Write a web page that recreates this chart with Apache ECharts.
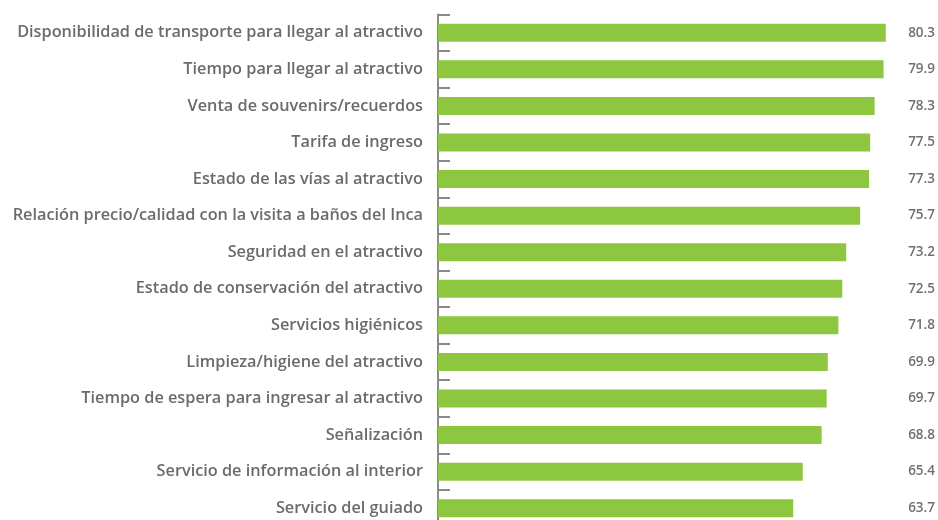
<!DOCTYPE html>
<html><head><meta charset="utf-8">
<script src="https://cdn.jsdelivr.net/npm/echarts@6/dist/echarts.min.js"></script>
<style>html,body{margin:0;padding:0;background:#fff}#c{width:938px;height:520px}</style>
</head><body><div id="c"></div>
<script>
var categories = [
  "Disponibilidad de transporte para llegar al atractivo",
  "Tiempo para llegar al atractivo",
  "Venta de souvenirs/recuerdos",
  "Tarifa de ingreso",
  "Estado de las vías al atractivo",
  "Relación precio/calidad con la visita a baños del Inca",
  "Seguridad en el atractivo",
  "Estado de conservación del atractivo",
  "Servicios higiénicos",
  "Limpieza/higiene del atractivo",
  "Tiempo de espera para ingresar al atractivo",
  "Señalización",
  "Servicio de información al interior",
  "Servicio del guiado"
];
var values = [80.3, 79.9, 78.3, 77.5, 77.3, 75.7, 73.2, 72.5, 71.8, 69.9, 69.7, 68.8, 65.4, 63.7];

var chart = echarts.init(document.getElementById('c'));
chart.setOption({
  animation: false,
  grid: { left: 438, right: 26, top: 14.5, height: 512, containLabel: false, outerBoundsMode: 'none' },
  xAxis: { type: 'value', min: 0, max: 85, show: false },
  yAxis: [{
    type: 'category', data: categories, inverse: true,
    axisLine: { show: true, lineStyle: { color: '#8a8a8a', width: 2 } },
    axisTick: { show: true, inside: true, length: 12, lineStyle: { color: '#8a8a8a', width: 2 } },
    axisLabel: { color: '#6b6b6b', fontSize: 16.3, fontFamily: 'Open Sans', fontWeight: 600, margin: 15 }
  }, {
    type: 'category', data: values.map(function(v){return v.toFixed(1);}), inverse: true, position: 'right',
    axisLine: { show: false }, axisTick: { show: false },
    axisLabel: { color: '#707070', fontSize: 13.5, fontFamily: 'Open Sans', fontWeight: 600, align: 'right', margin: 23 }
  }],
  series: [{
    type: 'bar', data: values, barWidth: 18,
    itemStyle: { color: '#8dc63f' }
  }]
});
</script></body></html>
